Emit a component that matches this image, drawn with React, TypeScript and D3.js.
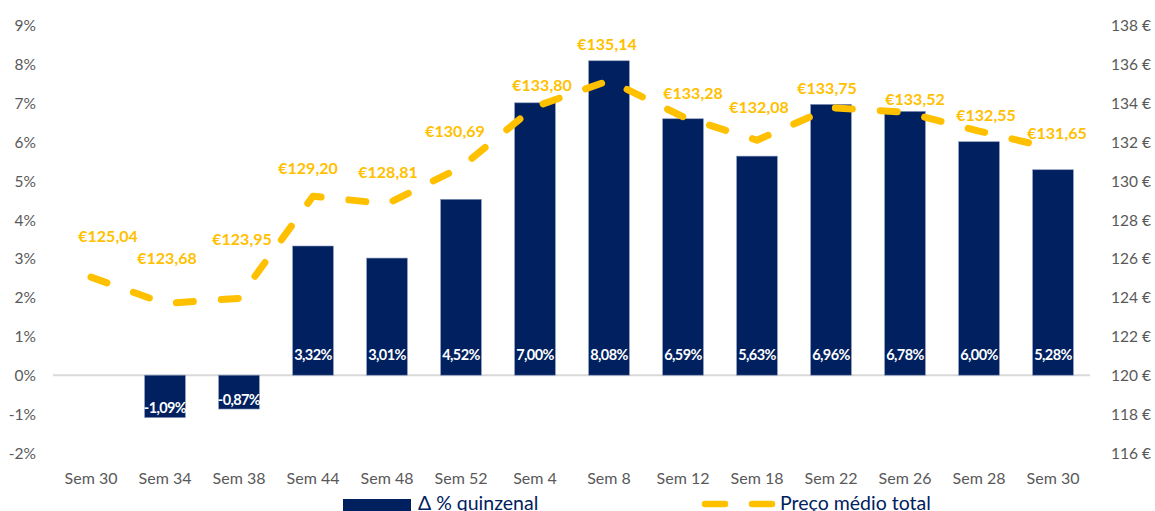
import React from "react";
import * as d3 from "d3";

const categories = ["Sem 30","Sem 34","Sem 38","Sem 44","Sem 48","Sem 52","Sem 4","Sem 8","Sem 12","Sem 18","Sem 22","Sem 26","Sem 28","Sem 30"];
const pctValues: (number | null)[] = [null, -1.09, -0.87, 3.32, 3.01, 4.52, 7.0, 8.08, 6.59, 5.63, 6.96, 6.78, 6.0, 5.28];
const prices = [125.04, 123.68, 123.95, 129.2, 128.81, 130.69, 133.8, 135.14, 133.28, 132.08, 133.75, 133.52, 132.55, 131.65];
const leftTicks = [-2, -1, 0, 1, 2, 3, 4, 5, 6, 7, 8, 9];
const rightTicks = [116, 118, 120, 122, 124, 126, 128, 130, 132, 134, 136, 138];
const seriesNames = ["Δ % quinzenal", "Preço médio total"];

// manual label nudges (layout only)
const labelDx = [17, 2, 3, -5, 1, -6, 7, -2, 10, 2, -4, 10, 7, 4];
const labelDy = [-42, -46, -60, -29, -32, -37, -22, -37, -24, -34, -20, -14, -17, -16];

const W = 1155, H = 511;
const NAVY = "#002060";
const GOLD = "#FFC000";
const GRAY = "#595959";
const FONT = "Lato, 'Open Sans', sans-serif";

export default function App() {
  const idx = categories.map((_, i) => i);
  const x = d3.scaleBand<number>().domain(idx).range([54, 1090]).paddingInner(0.45).paddingOuter(0.225);
  const yL = d3.scaleLinear().domain([-2, 9]).range([453, 25]);
  const yR = d3.scaleLinear().domain([116, 138]).range([453, 25]);
  const cx = (i: number) => (x(i) as number) + x.bandwidth() / 2;
  const fmt = (v: number) => d3.format(".2f")(v).replace(".", ",").replace("\u2212", "-");
  const line = d3.line<number>().x((_, i) => cx(i)).y(d => yR(d)).curve(d3.curveLinear);
  const y0 = yL(0);

  return (
    <svg width={W} height={H} style={{ position: "absolute", left: 0, top: 0, background: "#fff" }} fontFamily={FONT}>
      {/* zero line */}
      <line x1={53} x2={1090} y1={y0} y2={y0} stroke="#D9D9D9" strokeWidth={2} />
      {/* left axis */}
      {leftTicks.map(t => (
        <text key={"l" + t} x={36} y={yL(t)} textAnchor="end" dominantBaseline="central" fill={GRAY} fontSize={15.5}>{t + "%"}</text>
      ))}
      {/* right axis */}
      {rightTicks.map(t => (
        <text key={"r" + t} x={1111} y={yR(t)} textAnchor="start" dominantBaseline="central" fill={GRAY} fontSize={15.5}>{t + " €"}</text>
      ))}
      {/* x labels */}
      {categories.map((c, i) => (
        <text key={"x" + i} x={cx(i)} y={477} textAnchor="middle" dominantBaseline="central" fill={GRAY} fontSize={16}>{c}</text>
      ))}
      {/* bars */}
      {pctValues.map((v, i) => v == null ? null : (
        <rect key={"b" + i} x={x(i)} width={x.bandwidth()} y={Math.min(yL(v), y0)} height={Math.abs(yL(v) - y0)} fill={NAVY} stroke="#8896b8" strokeWidth={0.6} />
      ))}
      {/* bar labels */}
      {pctValues.map((v, i) => v == null ? null : (
        <text key={"bl" + i} x={cx(i)} y={v >= 0 ? y0 - 21 : yL(v) - 10} textAnchor="middle" dominantBaseline="central" fill="#fff" fontWeight="bold" fontSize={14.5} letterSpacing={-0.6}>{fmt(v) + "%"}</text>
      ))}
      {/* price line */}
      <path d={line(prices) || ""} fill="none" stroke={GOLD} strokeWidth={7} strokeLinecap="round" strokeLinejoin="round" strokeDasharray="17 28" />
      {/* price labels */}
      {prices.map((p, i) => (
        <text key={"pl" + i} x={cx(i) + labelDx[i]} y={yR(p) + labelDy[i]} textAnchor="middle" dominantBaseline="central" fill={GOLD} fontWeight="bold" fontSize={16}>{"€" + fmt(p)}</text>
      ))}
      {/* legend */}
      <rect x={343} y={499} width={68} height={14} fill={NAVY} />
      <text x={418} y={510} fill={NAVY} fontSize={19.5}>{seriesNames[0]}</text>
      <line x1={705} x2={725} y1={504} y2={504} stroke={GOLD} strokeWidth={6.5} strokeLinecap="round" />
      <line x1={752} x2={772} y1={504} y2={504} stroke={GOLD} strokeWidth={6.5} strokeLinecap="round" />
      <text x={780} y={510} fill={NAVY} fontSize={19.5}>{seriesNames[1]}</text>
    </svg>
  );
}
